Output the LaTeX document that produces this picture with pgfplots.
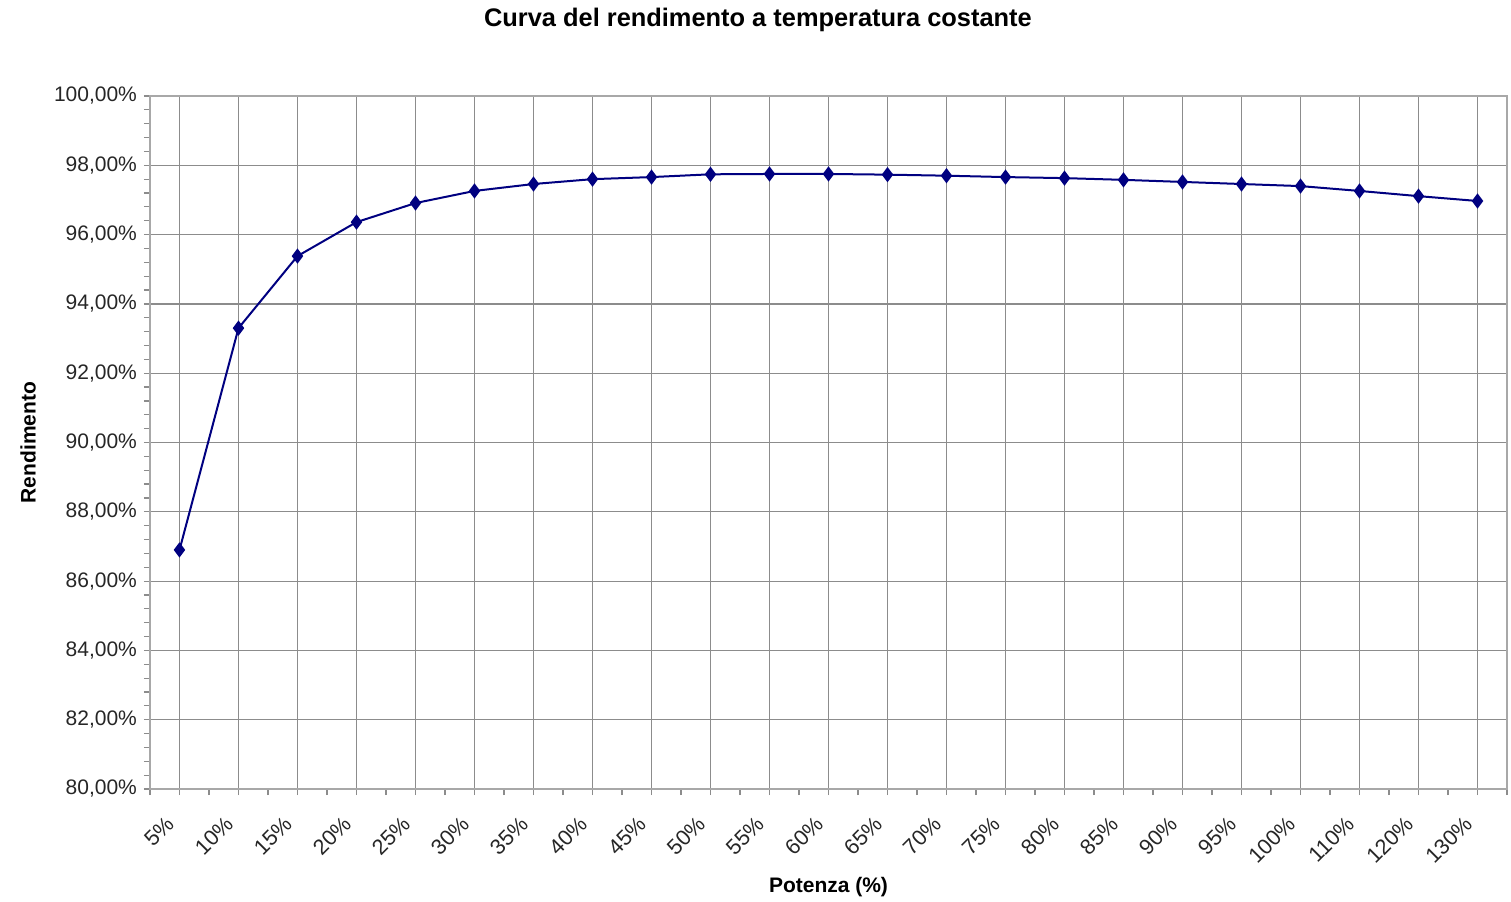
\documentclass[border=0pt]{standalone}
\usepackage{pgfplots}
\pgfplotsset{compat=1.18}
\usepackage{fontspec}
\setmainfont{Liberation Sans}
\definecolor{serie}{HTML}{000080}
\definecolor{griglia}{HTML}{8C8C8C}
\definecolor{bordo}{HTML}{A8A8A8}

\begin{document}
\begin{tikzpicture}
\path[use as bounding box] (-75pt,-56pt) rectangle (680.5pt,394.5pt);
\begin{axis}[
  at={(0,0)}, anchor=south west,
  scale only axis, width=678.5pt, height=346.5pt,
  xmin=-0.5, xmax=22.5, ymin=80, ymax=100,
  xtick={0,...,22},
  xticklabels={5\%,10\%,15\%,20\%,25\%,30\%,35\%,40\%,45\%,50\%,55\%,60\%,65\%,70\%,75\%,80\%,85\%,90\%,95\%,100\%,110\%,120\%,130\%},
  minor xtick={-0.5,0.5,...,22.5},
  ytick={80,82,...,100},
  minor y tick num=4,
  tick pos=left,
  tick align=outside,
  major tick length=3pt, minor tick length=3pt,
  xmajorgrids, ymajorgrids,
  grid style={griglia, line width=0.6pt},
  axis line style={bordo, line width=0.6pt},
  tick style={griglia, line width=0.6pt},
  /pgf/number format/assume math mode=true,
  yticklabel={\pgfmathprintnumber[fixed,fixed zerofill,precision=2,use comma]{\tick}\%},
  ticklabel style={font=\fontsize{10.5}{12}\selectfont, text=black!85},
  xticklabel style={xshift=-2.2pt, yshift=-10.2pt, rotate=45, anchor=east, font=\fontsize{10.8}{12}\selectfont},
  yticklabel style={xshift=0pt},
  title={Curva del rendimento a temperatura costante},
  title style={at={(0.448,1.092)}, anchor=center, font=\fontsize{12.7}{15}\selectfont\bfseries},
  xlabel={Potenza (\%)},
  xlabel style={at={(0.5,-0.141)}, anchor=center, font=\fontsize{10.5}{12}\selectfont\bfseries},
  ylabel={Rendimento},
  ylabel style={at={(-0.0899,0.5)}, anchor=center, font=\fontsize{10.5}{12}\selectfont\bfseries},
  clip=false,
]
\addplot[color=serie, line width=1pt, mark=diamond*, mark size=3pt, mark options={fill=serie}]
  coordinates {
    (0, 86.90)
    (1, 93.30)
    (2, 95.38)
    (3, 96.36)
    (4, 96.91)
    (5, 97.26)
    (6, 97.46)
    (7, 97.60)
    (8, 97.66)
    (9, 97.74)
    (10, 97.75)
    (11, 97.75)
    (12, 97.73)
    (13, 97.70)
    (14, 97.66)
    (15, 97.63)
    (16, 97.58)
    (17, 97.52)
    (18, 97.46)
    (19, 97.40)
    (20, 97.26)
    (21, 97.11)
    (22, 96.97)
  };
\end{axis}
\end{tikzpicture}
\end{document}
